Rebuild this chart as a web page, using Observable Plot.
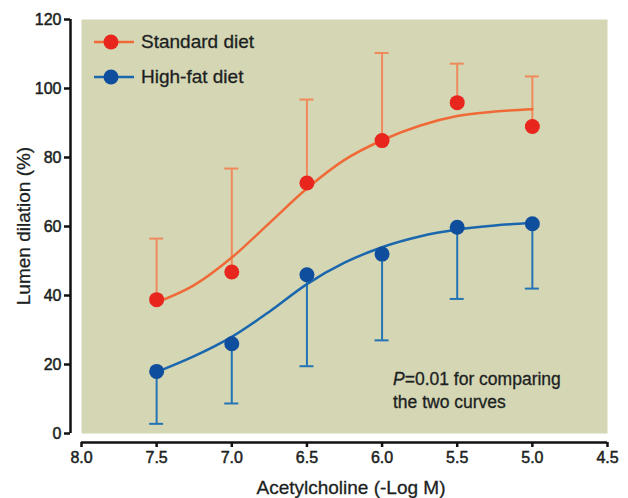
<!DOCTYPE html>
<html>
<head>
<meta charset="utf-8">
<script src="https://cdn.jsdelivr.net/npm/d3@7"></script>
<script src="https://cdn.jsdelivr.net/npm/@observablehq/plot@0.6"></script>
<style>
  body { margin: 0; background: #fff; }
  #wrap { position: relative; width: 628px; height: 498px; font-family: "Liberation Sans", Arial, sans-serif; color: #1c1f22; }
  .ov { position: absolute; white-space: nowrap; -webkit-text-stroke: 0.3px #1c1f22; }
</style>
</head>
<body>
<div id="wrap"></div>
<script>
// ---- data ----
const doses = [7.5, 7.0, 6.5, 6.0, 5.5, 5.0];
const standardMean = [38.8, 46.8, 72.6, 84.9, 95.9, 89.0];
const standardUpper = [56.5, 76.8, 96.8, 110.3, 107.2, 103.5];
const highFatMean = [18.0, 26.0, 46.0, 52.0, 59.8, 60.8];
const highFatLower = [2.8, 8.7, 19.5, 27.0, 39.0, 42.0];

const fitDoses = [7.5, 7.25, 7.0, 6.75, 6.5, 6.25, 6.0, 5.75, 5.5, 5.25, 5.0];
const standardFit = [38.0, 43.0, 51.0, 61.0, 71.0, 79.3, 85.0, 89.2, 92.0, 93.3, 94.0];
const highFatFit = [17.8, 22.4, 28.0, 35.3, 43.3, 49.5, 54.0, 57.1, 59.1, 60.3, 61.0];

const xTicks = [8.0, 7.5, 7.0, 6.5, 6.0, 5.5, 5.0, 4.5];
const yTicks = [0, 20, 40, 60, 80, 100, 120];

const seriesNames = ["Standard diet", "High-fat diet"];
const xTitle = "Acetylcholine (-Log M)";
const yTitle = "Lumen dilation (%)";

// ---- colours ----
const redDot = "#e8261e", redLine = "#f06a38", redErr = "#f08a5c";
const blueDot = "#0f4e9c", blueLine = "#1b67ae", blueErr = "#2474b5";

const std = doses.map((x, i) => ({x, y: standardMean[i], up: standardUpper[i]}));
const hf = doses.map((x, i) => ({x, y: highFatMean[i], lo: highFatLower[i]}));
const stdFit = fitDoses.map((x, i) => ({x, y: standardFit[i]}));
const hfFit = fitDoses.map((x, i) => ({x, y: highFatFit[i]}));

const chart = Plot.plot({
  width: 628,
  height: 498,
  marginLeft: 81,
  marginRight: 21,
  marginTop: 19,
  marginBottom: 65,
  style: {fontFamily: "Liberation Sans, Arial, sans-serif", fontSize: "16px", color: "#1c1f22", background: "transparent"},
  x: {domain: [8.0, 4.5], axis: null},
  y: {domain: [0, 120], axis: null},
  marks: [
    Plot.frame({fill: "#d4d6b4", stroke: null}),
    // axes lines
    Plot.ruleX([8.0], {y1: 0, y2: 120, dx: -11, stroke: "#111", strokeWidth: 2.5}),
    Plot.ruleY([0], {x1: 8.0, x2: 4.5, dy: 9, stroke: "#111", strokeWidth: 2.5}),
    Plot.axisY({ticks: yTicks, tickSize: 6, tickPadding: 3, dx: -11, strokeWidth: 2.5, stroke: "#111", fill: "#1c1f22", textStroke: "#1c1f22", textStrokeWidth: 0.5, fontSize: 16, label: null}),
    Plot.axisX({ticks: xTicks, tickSize: 5, tickPadding: 4, dy: 9, strokeWidth: 2.5, stroke: "#111", fill: "#1c1f22", textStroke: "#1c1f22", textStrokeWidth: 0.5, fontSize: 16, tickFormat: d3.format(".1f"), label: null}),
    // error bars
    Plot.ruleX(std, {x: "x", y1: "y", y2: "up", stroke: redErr, strokeWidth: 2}),
    Plot.ruleY(std, {y: "up", x1: "x", x2: "x", insetLeft: -7, insetRight: -7, stroke: redErr, strokeWidth: 2}),
    Plot.ruleX(hf, {x: "x", y1: "y", y2: "lo", stroke: blueErr, strokeWidth: 2}),
    Plot.ruleY(hf, {y: "lo", x1: "x", x2: "x", insetLeft: -7, insetRight: -7, stroke: blueErr, strokeWidth: 2}),
    // fitted curves
    Plot.line(stdFit, {x: "x", y: "y", curve: "monotone-x", stroke: redLine, strokeWidth: 2.5}),
    Plot.line(hfFit, {x: "x", y: "y", curve: "monotone-x", stroke: blueLine, strokeWidth: 2.5}),
    // points
    Plot.dot(std, {x: "x", y: "y", r: 7.5, fill: redDot, stroke: null}),
    Plot.dot(hf, {x: "x", y: "y", r: 7.5, fill: blueDot, stroke: null})
  ]
});

const wrap = document.getElementById("wrap");
wrap.appendChild(chart);

function ov(html, css) {
  const d = document.createElement("div");
  d.className = "ov";
  d.innerHTML = html;
  Object.assign(d.style, css);
  wrap.appendChild(d);
  return d;
}

// legend
const legendColors = [[redLine, redDot], [blueLine, blueDot]];
seriesNames.forEach((name, i) => {
  const cy = 42 + i * 35;
  ov(`<svg width="40" height="18" style="display:block"><line x1="0" x2="40" y1="9" y2="9" stroke="${legendColors[i][0]}" stroke-width="2.5"/><circle cx="17" cy="9" r="7.5" fill="${legendColors[i][1]}"/></svg>`,
     {left: "94px", top: (cy - 9) + "px", webkitTextStroke: "0"});
  ov(name, {left: "141px", top: (cy - 11) + "px", fontSize: "19px", lineHeight: "22px"});
});

// annotation
ov(`<i>P</i>=0.01 for comparing<br>the two curves`, {left: "393px", top: "368px", fontSize: "17.5px", lineHeight: "23px"});

// axis titles
ov(xTitle, {left: "351px", top: "477px", fontSize: "19px", lineHeight: "22px", transform: "translateX(-50%)"});
ov(yTitle, {left: "24px", top: "226px", fontSize: "19px", lineHeight: "22px", transform: "translate(-50%, -50%) rotate(-90deg)"});
</script>
</body>
</html>
